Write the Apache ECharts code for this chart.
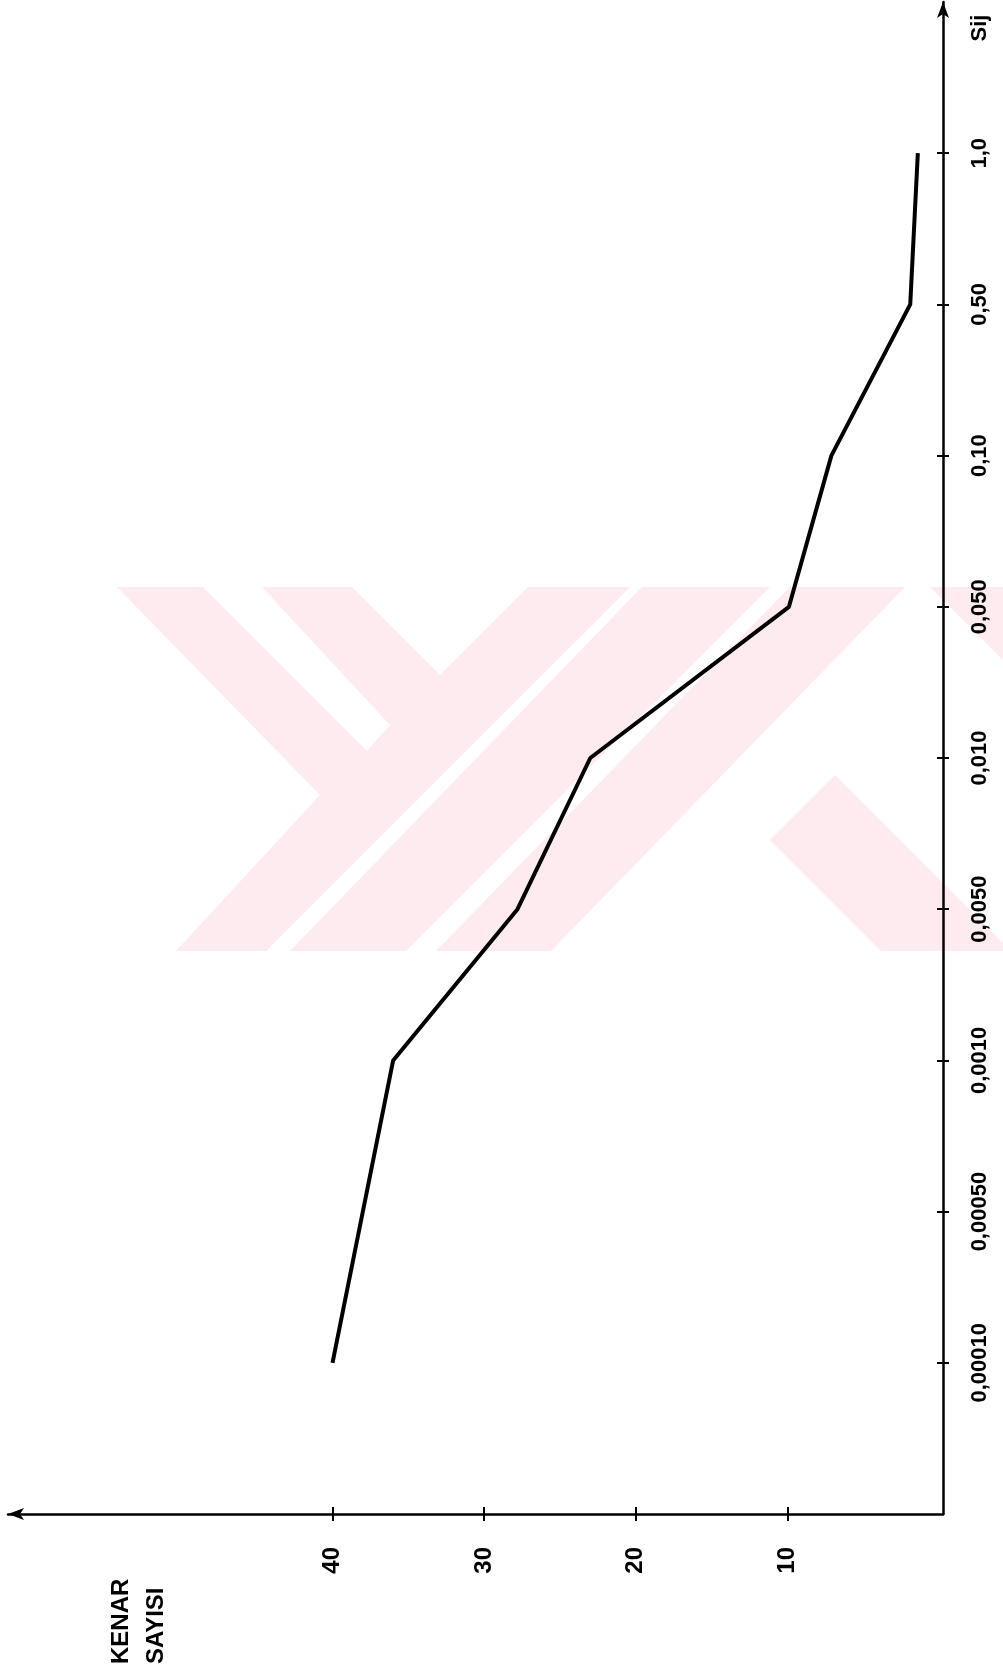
<!DOCTYPE html>
<html>
<head>
<meta charset="utf-8">
<script src="https://cdn.jsdelivr.net/npm/echarts@6/dist/echarts.min.js"></script>
<style>
  html, body { margin: 0; padding: 0; background: #fff; }
  #main { width: 1003px; height: 1675px; }
</style>
</head>
<body>
<div id="main"></div>
<script>
// Sij classes along the vertical axis (bottom to top), empty slots at both ends
var sijLabels = ['', '0,00010', '0,00050', '0,0010', '0,0050', '0,010', '0,050', '0,10', '0,50', '1,0', ''];
// number of edges (KENAR SAYISI) read at each Sij class
var kenarSayisi = [null, 40, 38, 36, 27.8, 23, 9.9, 7.1, 1.9, 1.4, null];
// tick labels on the horizontal axis
var kenarTicks = [10, 20, 30, 40];

var chart = echarts.init(document.getElementById('main'));

var lineData = [];
for (var i = 0; i < kenarSayisi.length; i++) {
  if (kenarSayisi[i] != null) lineData.push([kenarSayisi[i], i]);
}

var labelFont = 'Liberation Sans, Arial, sans-serif';
var pink = '#fdebef';

// faded watermark in the middle of the page
function band(pts) {
  return { type: 'polygon', silent: true, z: -10, shape: { points: pts }, style: { fill: pink } };
}

var xCommon = { type: 'value', inverse: true, min: -0.26, max: 61.4, position: 'bottom', splitLine: { show: false } };

chart.setOption({
  animation: false,
  backgroundColor: '#fff',
  grid: { left: 8, right: 60, top: 2, bottom: 161, containLabel: false, outerBoundsMode: 'none' },
  xAxis: [
    Object.assign({}, xCommon, {
      axisLine: { show: true, onZero: false, symbol: ['arrow', 'none'], symbolSize: [9, 16],
        lineStyle: { color: '#000', width: 2.5 } },
      axisTick: { show: true, customValues: kenarTicks, length: 7, lineStyle: { color: '#000', width: 2 } },
      axisLabel: { customValues: kenarTicks, rotate: 90, margin: 33, fontSize: 24, fontWeight: 'bold',
        color: '#000', fontFamily: labelFont }
    }),
    Object.assign({}, xCommon, {
      axisLine: { show: false },
      axisTick: { show: true, inside: true, customValues: kenarTicks, length: 7, lineStyle: { color: '#000', width: 2 } },
      axisLabel: { show: false }
    })
  ],
  yAxis: [
    {
      type: 'category', data: sijLabels, boundaryGap: false, position: 'right',
      axisLine: { show: true, onZero: false, symbol: ['none', 'arrow'], symbolSize: [9, 16],
        lineStyle: { color: '#000', width: 2.5 } },
      axisTick: { show: true, length: 6, interval: function (idx) { return idx > 0 && idx < sijLabels.length - 1; },
        lineStyle: { color: '#000', width: 2 } },
      axisLabel: { interval: 0, rotate: 90, margin: 26, fontSize: 22, fontWeight: 'bold',
        color: '#000', fontFamily: labelFont },
      splitLine: { show: false }
    },
    {
      type: 'category', data: sijLabels, boundaryGap: false, position: 'right',
      axisLine: { show: false, onZero: false },
      axisTick: { show: true, inside: true, length: 6, interval: function (idx) { return idx > 0 && idx < sijLabels.length - 1; },
        lineStyle: { color: '#000', width: 2 } },
      axisLabel: { show: false },
      splitLine: { show: false }
    }
  ],
  series: [
    {
      type: 'line', xAxisIndex: 0, yAxisIndex: 0, data: lineData,
      symbol: 'none', lineStyle: { color: '#000', width: 4 }, z: 5
    }
  ],
  graphic: [
    band([[117, 587], [203, 587], [368, 752], [267, 951], [176, 951], [320, 795]]),
    band([[262, 587], [352, 587], [440, 675], [528, 587], [630, 587], [266, 951], [190, 951], [390, 725]]),
    band([[642, 587], [770, 587], [406, 951], [290, 951]]),
    band([[790, 587], [905, 587], [551, 951], [436, 951]]),
    band([[770, 840], [835, 775], [1003, 943], [1003, 951], [881, 951]]),
    band([[930, 587], [1003, 587], [1003, 660], [965, 622]]),
    {
      type: 'text', x: 980, y: 28, rotation: Math.PI / 2,
      style: { text: 'Sij', fontSize: 22, fontWeight: 'bold', fill: '#000', fontFamily: labelFont,
        align: 'center', verticalAlign: 'middle' }
    },
    {
      type: 'text', x: 121, y: 1664, rotation: Math.PI / 2,
      style: { text: 'KENAR', fontSize: 24, fontWeight: 'bold', fill: '#000', fontFamily: labelFont,
        align: 'left', verticalAlign: 'middle' }
    },
    {
      type: 'text', x: 156, y: 1664, rotation: Math.PI / 2,
      style: { text: 'SAYISI', fontSize: 24, fontWeight: 'bold', fill: '#000', fontFamily: labelFont,
        align: 'left', verticalAlign: 'middle' }
    }
  ]
});
</script>
</body>
</html>
